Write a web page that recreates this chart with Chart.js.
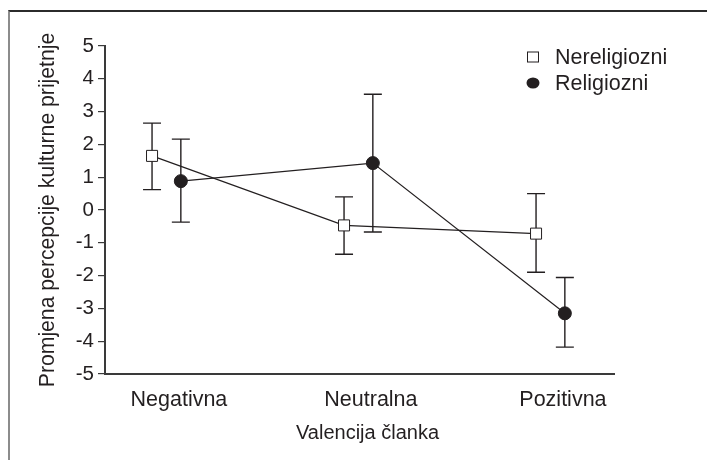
<!DOCTYPE html>
<html>
<head>
<meta charset="utf-8">
<script src="https://cdn.jsdelivr.net/npm/chart.js@4/dist/chart.umd.min.js"></script>
<style>
  html, body { margin: 0; padding: 0; background: #fff; }
  #wrap { position: relative; width: 707px; height: 460px; overflow: hidden; }
  #frame { position: absolute; left: 8px; top: 10px; width: 760px; height: 500px;
           border-top: 2px solid #2b2b2b; border-left: 2px solid #8c8c8c; }
  canvas { position: absolute; left: 0; top: 0; }
</style>
</head>
<body>
<div id="wrap">
  <div id="frame"></div>
  <canvas id="chart" width="707" height="460"></canvas>
</div>
<script>
// categories and values
const categories = ['Negativna', 'Neutralna', 'Pozitivna'];
const yTicks = [-5, -4, -3, -2, -1, 0, 1, 2, 3, 4, 5];

const nonRelMean  = [1.65, -0.47, -0.72];
const nonRelUpper = [2.65, 0.40, 0.50];
const nonRelLower = [0.62, -1.35, -1.90];

const relMean  = [0.88, 1.43, -3.15];
const relUpper = [2.16, 3.53, -2.06];
const relLower = [-0.37, -0.67, -4.18];

const seriesNames = ['Nereligiozni', 'Religiozni'];
const xTitle = 'Valencija članka';
const yTitle = 'Promjena percepcije kulturne prijetnje';

const INK = '#231f20';
const FONT = "'Liberation Sans', Arial, Helvetica, sans-serif";

// small shift so the two groups sit side by side
const SHIFT_NONREL = -0.14;
const SHIFT_REL = 0.01;

function toPoints(vals, shift) {
    return vals.map((v, i) => ({ x: i + 1 + shift, y: v }));
}

// error bars, drawn under the markers
const errorBars = {
    id: 'errorBars',
    beforeDatasetsDraw(chart) {
        const { ctx, scales: { x, y } } = chart;
        ctx.save();
        ctx.strokeStyle = INK;
        ctx.lineWidth = 1.4;
        chart.data.datasets.forEach(ds => {
            ds.data.forEach((p, i) => {
                const px = x.getPixelForValue(p.x);
                const top = y.getPixelForValue(ds.upper[i]);
                const bot = y.getPixelForValue(ds.lower[i]);
                ctx.beginPath();
                ctx.moveTo(px, top); ctx.lineTo(px, bot);
                ctx.moveTo(px - 9, top); ctx.lineTo(px + 9, top);
                ctx.moveTo(px - 9, bot); ctx.lineTo(px + 9, bot);
                ctx.stroke();
            });
        });
        ctx.restore();
    }
};

// legend in the upper right corner + x title (sits a bit right of centre in the original)
const extras = {
    id: 'extras',
    afterDraw(chart) {
        const { ctx, chartArea } = chart;
        const mx = chartArea.right - 81;
        const tx = mx + 22;
        let yy = chartArea.top + 11;
        ctx.save();
        ctx.font = '21.5px ' + FONT;
        ctx.textBaseline = 'middle';
        chart.data.datasets.forEach(ds => {
            ctx.strokeStyle = INK;
            ctx.lineWidth = 1;
            if (ds.pointStyle === 'rect') {
                ctx.fillStyle = '#fff';
                ctx.fillRect(mx - 5.5, yy - 5, 11, 10);
                ctx.strokeRect(mx - 5.5, yy - 5, 11, 10);
            } else {
                ctx.fillStyle = INK;
                ctx.beginPath();
                ctx.ellipse(mx, yy, 6.5, 5.5, 0, 0, Math.PI * 2);
                ctx.fill();
            }
            ctx.fillStyle = INK;
            ctx.fillText(ds.label, tx, yy + 1);
            yy += 26;
        });

        ctx.font = '20px ' + FONT;
        ctx.textAlign = 'center';
        ctx.fillText(xTitle, (chartArea.left + chartArea.right) / 2 + 8, chart.height - 27);
        ctx.restore();
    }
};

const ctx = document.getElementById('chart').getContext('2d');
new Chart(ctx, {
    type: 'scatter',
    data: {
        datasets: [
            {
                label: seriesNames[0],
                data: toPoints(nonRelMean, SHIFT_NONREL),
                upper: nonRelUpper,
                lower: nonRelLower,
                showLine: true,
                borderColor: INK,
                borderWidth: 1.2,
                pointStyle: 'rect',
                pointRadius: 7.8,
                pointBackgroundColor: '#fff',
                pointBorderColor: INK,
                pointBorderWidth: 1
            },
            {
                label: seriesNames[1],
                data: toPoints(relMean, SHIFT_REL),
                upper: relUpper,
                lower: relLower,
                showLine: true,
                borderColor: INK,
                borderWidth: 1.2,
                pointStyle: 'circle',
                pointRadius: 6.5,
                pointBackgroundColor: INK,
                pointBorderColor: INK,
                pointBorderWidth: 1
            }
        ]
    },
    options: {
        responsive: false,
        animation: false,
        layout: { padding: { left: 0, top: 46, right: 93, bottom: 0 } },
        plugins: {
            legend: { display: false },
            tooltip: { enabled: false }
        },
        scales: {
            x: {
                type: 'linear',
                min: 0.615,
                max: 3.266,
                afterBuildTicks: s => { s.ticks = categories.map((c, i) => ({ value: i + 1 })); },
                afterFit: s => { s.height = 86; },
                grid: { display: false },
                border: { display: true, color: '#3a3a3a', width: 2 },
                ticks: {
                    color: INK,
                    padding: 5,
                    autoSkip: false,
                    maxRotation: 0,
                    font: { family: FONT, size: 21.5 },
                    callback: v => categories[Math.round(v) - 1]
                }
            },
            y: {
                min: -5,
                max: 5,
                afterBuildTicks: s => { s.ticks = yTicks.map(v => ({ value: v })); },
                afterFit: s => { s.width = 105; },
                grid: {
                    display: true,
                    drawOnChartArea: false,
                    drawTicks: true,
                    tickLength: 7,
                    color: '#3a3a3a',
                    lineWidth: 1.2
                },
                border: { display: true, color: '#3a3a3a', width: 2 },
                ticks: {
                    color: INK,
                    padding: 4,
                    font: { family: FONT, size: 20.5 }
                },
                title: {
                    display: true,
                    text: yTitle,
                    color: INK,
                    font: { family: FONT, size: 21.2 },
                    padding: { top: 35, bottom: 0 }
                }
            }
        }
    },
    plugins: [errorBars, extras]
});
</script>
</body>
</html>
